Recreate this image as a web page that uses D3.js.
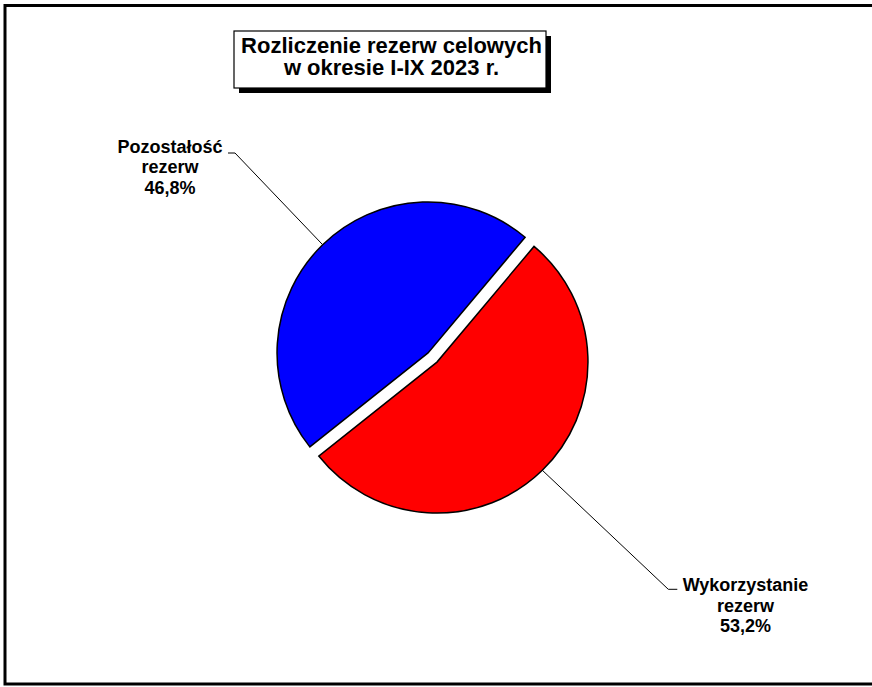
<!DOCTYPE html>
<html>
<head>
<meta charset="utf-8">
<script src="https://cdn.jsdelivr.net/npm/d3@7"></script>
<style>
  html, body { margin: 0; padding: 0; background: #fff; }
  svg { display: block; }
  text { font-family: Arial, "Liberation Sans", sans-serif; font-weight: bold; fill: #000; }
</style>
</head>
<body>
<svg id="chart" width="872" height="687"></svg>
<script>
// ---- data ----
const categories = ["Wykorzystanie rezerw", "Pozostałość rezerw"];
const values = [53.2, 46.8];
const colors = ["#ff0000", "#0000ff"];
const labelLines = [["Wykorzystanie", "rezerw", "53,2%"], ["Pozostałość", "rezerw", "46,8%"]];
const titleLines = ["Rozliczenie rezerw celowych", "w okresie I-IX 2023 r."];

// ---- layout ----
const W = 872, H = 687;
const cx = 432.5, cy = 357.5, R = 151, explode = 6.4;
const startDeg = 40;
const labelLayout = [
  { x: 745.5, y: 591, elbow: [668.3, 589.3], end: [677.3, 589.3] },
  { x: 170, y: 152.7, elbow: [235, 153], end: [228, 153] }
];

const svg = d3.select("#chart");

// outer frame (right edge runs off-canvas)
svg.append("rect")
  .attr("x", 5).attr("y", 5.5)
  .attr("width", 900).attr("height", 678.5)
  .attr("fill", "none").attr("stroke", "#000").attr("stroke-width", 3);

// pie
const pie = d3.pie().sort(null)
  .startAngle(startDeg * Math.PI / 180)
  .endAngle(startDeg * Math.PI / 180 + 2 * Math.PI);
const arcs = pie(values);
const arc = d3.arc().innerRadius(0).outerRadius(R);

const g = svg.append("g");
arcs.forEach((d, i) => {
  const mid = (d.startAngle + d.endAngle) / 2;
  const ox = cx + explode * Math.sin(mid);
  const oy = cy - explode * Math.cos(mid);
  d.ox = ox; d.oy = oy; d.mid = mid;
  g.append("path")
    .attr("transform", `translate(${ox},${oy})`)
    .attr("d", arc(d))
    .attr("fill", colors[i])
    .attr("stroke", "#000")
    .attr("stroke-width", 1.5)
    .attr("stroke-linejoin", "miter");
});

// leader lines and labels
arcs.forEach((d, i) => {
  const L = labelLayout[i];
  const sx = d.ox + R * Math.sin(d.mid);
  const sy = d.oy - R * Math.cos(d.mid);
  svg.append("polyline")
    .attr("points", [[sx, sy], L.elbow, L.end].map(p => p.join(",")).join(" "))
    .attr("fill", "none").attr("stroke", "#000").attr("stroke-width", 1);
  const t = svg.append("text")
    .attr("text-anchor", "middle")
    .attr("font-size", 18);
  labelLines[i].forEach((s, k) => {
    t.append("tspan").attr("x", L.x).attr("y", L.y + k * 20.5).text(s);
  });
});

// title box with shadow
const bx = 234, by = 31, bw = 312, bh = 57;
svg.append("rect").attr("x", bx + 5).attr("y", by + 5).attr("width", bw).attr("height", bh).attr("fill", "#000");
svg.append("rect").attr("x", bx).attr("y", by).attr("width", bw).attr("height", bh)
  .attr("fill", "#fff").attr("stroke", "#000").attr("stroke-width", 1.2);
const tt = svg.append("text").attr("text-anchor", "middle").attr("font-size", 22);
titleLines.forEach((s, k) => {
  tt.append("tspan").attr("x", 391.5).attr("y", 53 + k * 22).text(s);
});
</script>
</body>
</html>
